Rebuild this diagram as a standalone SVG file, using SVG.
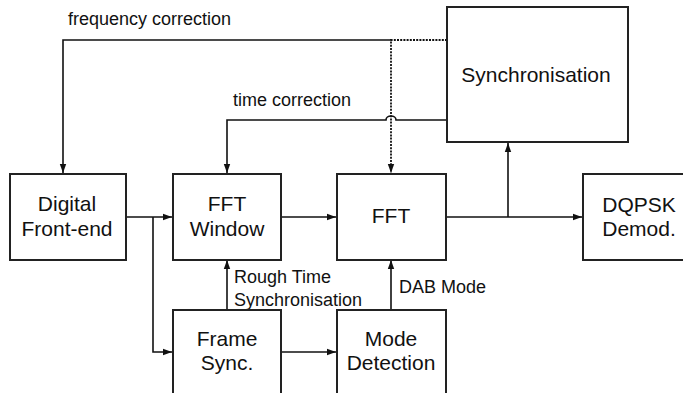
<svg xmlns="http://www.w3.org/2000/svg" width="683" height="393" viewBox="0 0 683 393">
<style>
.box{fill:#fff;stroke:#222;stroke-width:2}
.ln{fill:none;stroke:#111;stroke-width:1.6}
.dot{fill:none;stroke:#111;stroke-width:1.8;stroke-dasharray:2,1.2}
.t{font-family:"Liberation Sans",Arial,sans-serif;font-size:21px;fill:#111;text-anchor:middle}
.s{font-family:"Liberation Sans",Arial,sans-serif;font-size:18px;fill:#111}
</style>
<defs>
<marker id="a" markerUnits="userSpaceOnUse" markerWidth="10" markerHeight="8" refX="9" refY="4" orient="auto">
<path d="M0,0.8 L9,4 L0,7.2 z" fill="#111"/>
</marker>
</defs>
<rect width="683" height="393" fill="#fff"/>
<g id="connectors">
<path class="ln" d="M391,40 H63 V173" marker-end="url(#a)"/>
<path class="dot" d="M447,40 H391 V173" marker-end="url(#a)"/>
<path class="ln" d="M447,120 H396 A5,4 0 0 0 386,120 H227 V173" marker-end="url(#a)"/>
<path class="ln" d="M126,217 H172" marker-end="url(#a)"/>
<path class="ln" d="M153,217 V352 H172" marker-end="url(#a)"/>
<path class="ln" d="M281,217 H336" marker-end="url(#a)"/>
<path class="ln" d="M446,217 H582" marker-end="url(#a)"/>
<path class="ln" d="M508,217 V143" marker-end="url(#a)"/>
<path class="ln" d="M281,352 H336" marker-end="url(#a)"/>
<path class="ln" d="M227,310 V260" marker-end="url(#a)"/>
<path class="ln" d="M391,310 V260" marker-end="url(#a)"/>
<text class="s" x="68" y="25">frequency correction</text>
<text class="s" x="233" y="106">time correction</text>
<text class="s" x="234" y="283">Rough Time</text>
<text class="s" x="234" y="306">Synchronisation</text>
<text class="s" x="399" y="293">DAB Mode</text>
</g>
<g id="sync">
<rect class="box" x="447" y="7" width="181" height="135"/>
<text class="t" x="536" y="82">Synchronisation</text>
</g>
<g id="frontend">
<rect class="box" x="10" y="174" width="116" height="86"/>
<text class="t" x="67" y="211">Digital</text>
<text class="t" x="67" y="236">Front-end</text>
</g>
<g id="fftwindow">
<rect class="box" x="173" y="174" width="108" height="86"/>
<text class="t" x="227" y="211">FFT</text>
<text class="t" x="227" y="236">Window</text>
</g>
<g id="fft">
<rect class="box" x="337" y="174" width="109" height="86"/>
<text class="t" x="391" y="223">FFT</text>
</g>
<g id="dqpsk">
<rect class="box" x="583" y="174" width="112" height="86"/>
<text class="t" x="639" y="212">DQPSK</text>
<text class="t" x="639" y="236">Demod.</text>
</g>
<g id="framesync">
<rect class="box" x="173" y="310" width="108" height="90"/>
<text class="t" x="227" y="346">Frame</text>
<text class="t" x="227" y="370">Sync.</text>
</g>
<g id="modedetection">
<rect class="box" x="337" y="310" width="109" height="90"/>
<text class="t" x="391" y="346">Mode</text>
<text class="t" x="391" y="370">Detection</text>
</g>
</svg>
